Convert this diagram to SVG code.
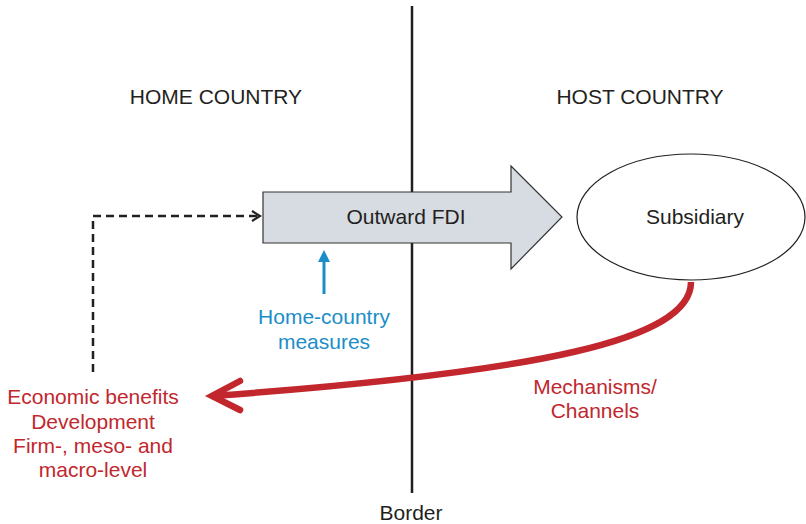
<svg xmlns="http://www.w3.org/2000/svg" width="806" height="524" viewBox="0 0 806 524">
<defs>
<style>
text{font-family:"Liberation Sans",Arial,sans-serif;text-anchor:middle}
.hdr{font-size:21px;fill:#231f20}
.lbl{font-size:21px;fill:#231f20}
.red{font-size:21px;fill:#c1272d}
.blue{font-size:21px;fill:#1b8ec8}
</style>
<marker id="chev" viewBox="0 0 12 12" refX="10" refY="6" markerWidth="12" markerHeight="12" markerUnits="userSpaceOnUse" orient="auto">
<path d="M2,1 L10,6 L2,11" fill="none" stroke="#231f20" stroke-width="2.2"/>
</marker>
</defs>
<rect width="806" height="524" fill="#fff"/>
<g id="border">
<line x1="412" y1="6" x2="412" y2="493" stroke="#231f20" stroke-width="2.5"/>
<text class="lbl" x="411" y="520">Border</text>
</g>
<text class="hdr" x="216" y="104">HOME COUNTRY</text>
<text class="hdr" x="640" y="104">HOST COUNTRY</text>
<g id="outward-fdi">
<path d="M263,192 L511,192 L511,166 L562,217 L511,269 L511,243 L263,243 Z" fill="#d7dbe2" stroke="#333" stroke-width="1.2"/>
<text class="lbl" x="406" y="224">Outward FDI</text>
</g>
<g id="subsidiary">
<ellipse cx="691" cy="217" rx="114" ry="63" fill="#fff" stroke="#231f20" stroke-width="1.2"/>
<text class="lbl" x="695" y="224">Subsidiary</text>
</g>
<g id="home-measures">
<text class="blue" x="324" y="324">Home-country</text>
<text class="blue" x="324" y="349">measures</text>
</g>
<g id="benefits">
<text class="red" x="93" y="404">Economic benefits</text>
<text class="red" x="93" y="429">Development</text>
<text class="red" x="93" y="453">Firm-, meso- and</text>
<text class="red" x="93" y="477">macro-level</text>
</g>
<g id="mechanisms">
<text class="red" x="595" y="394">Mechanisms/</text>
<text class="red" x="595" y="418">Channels</text>
</g>
<g id="connectors">
<path d="M93,372 L93,216 L260,216" fill="none" stroke="#231f20" stroke-width="2.5" stroke-dasharray="8,5" marker-end="url(#chev)"/>
<line x1="324" y1="294" x2="324" y2="260" stroke="#1b8ec8" stroke-width="3"/>
<path d="M318,262 L324,250 L330,262 Z" fill="#1b8ec8"/>
<path d="M691,282 C691,340 540,372 212,396" fill="none" stroke="#c1272d" stroke-width="6.5"/>
<path d="M240,381 L212,396 L240,410" fill="none" stroke="#c1272d" stroke-width="6.5" stroke-linecap="round" stroke-linejoin="miter"/>
</g>
</svg>
